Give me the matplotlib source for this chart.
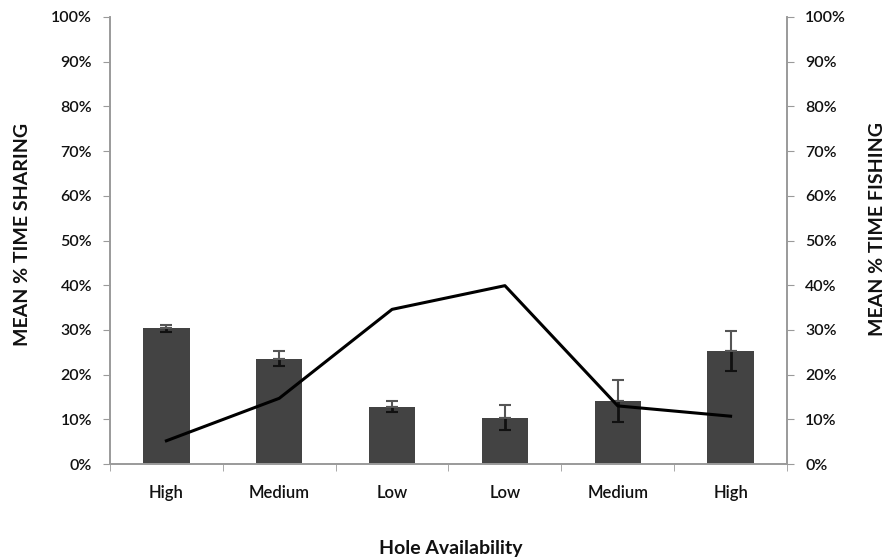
import numpy as np
import matplotlib
matplotlib.use('Agg')
import matplotlib.pyplot as plt
from matplotlib.ticker import PercentFormatter

# data
categories = ['High', 'Medium', 'Low', 'Low', 'Medium', 'High']
sharing = [30.4, 23.6, 12.8, 10.4, 14.2, 25.3]        # bars, left axis (%)
sharing_err = [0.8, 1.6, 1.2, 2.7, 4.7, 4.4]          # error bars (%)
fishing = [5.2, 14.7, 34.6, 39.9, 13.0, 10.7]         # line, right axis (%)
y_ticks = list(range(0, 101, 10))

plt.rcParams['font.family'] = ['Lato', 'DejaVu Sans']

fig = plt.figure(figsize=(8.92, 5.59), dpi=100)
ax = fig.add_axes([0.1233, 0.1699, 0.759, 0.7997])
x = np.arange(len(categories))

spine_col = '#9a9a9a'
tick_font = dict(fontsize=12, fontweight='semibold')
ax.bar(x, sharing, width=0.41, color='#434343', zorder=2)
# lower half of whisker black, upper half grey like the original
ax.errorbar(x, sharing, yerr=[sharing_err, [0] * len(x)], fmt='none',
            ecolor='#111111', elinewidth=2, capsize=4.5, capthick=1.5, zorder=3)
ax.errorbar(x, sharing, yerr=[[0] * len(x), sharing_err], fmt='none',
            ecolor='#555555', elinewidth=1.5, capsize=4.5, capthick=1.5, zorder=3)

ax.set_xlim(-0.5, len(x) - 0.5)
ax.set_ylim(0, 100)
ax.set_yticks(y_ticks)
ax.yaxis.set_major_formatter(PercentFormatter(decimals=0))
ax.set_xticks(x)
ax.set_xticklabels(categories, **tick_font)
ax.set_xticks(np.arange(-0.5, len(x) + 0.5, 1), minor=True)
ax.tick_params(axis='x', which='major', length=0, pad=15, colors='#111111')
ax.tick_params(axis='x', which='minor', length=5, color=spine_col)
ax.tick_params(axis='y', length=5, color=spine_col, pad=8, labelcolor='#111111')
for lab in ax.get_yticklabels():
    lab.set_fontsize(11.5)
    lab.set_fontweight('semibold')

for s in ['top']:
    ax.spines[s].set_visible(False)
for s in ['left', 'bottom', 'right']:
    ax.spines[s].set_color(spine_col)
    ax.spines[s].set_linewidth(1.2)

ax2 = ax.twinx()
ax2.plot(x, fishing, color='black', lw=2.2, zorder=4)
ax2.set_ylim(0, 100)
ax2.set_yticks(y_ticks)
ax2.yaxis.set_major_formatter(PercentFormatter(decimals=0))
ax2.tick_params(axis='y', length=5, color=spine_col, pad=8, labelcolor='#111111')
for lab in ax2.get_yticklabels():
    lab.set_fontsize(11.5)
    lab.set_fontweight('semibold')
ax2.spines['top'].set_visible(False)
for s in ['left', 'bottom', 'right']:
    ax2.spines[s].set_color(spine_col)
    ax2.spines[s].set_linewidth(1.2)

fig.text(0.025, 0.58, 'MEAN % TIME SHARING', rotation=90, ha='center', va='center',
         fontsize=14, fontweight='bold', color='#111111')
fig.text(0.984, 0.59, 'MEAN % TIME FISHING', rotation=90, ha='center', va='center',
         fontsize=14, fontweight='bold', color='#111111')
fig.text(0.505, 0.018, 'Hole Availability', ha='center', va='center',
         fontsize=14, fontweight='bold', color='#111111')

fig.savefig('out.png', dpi=100)
